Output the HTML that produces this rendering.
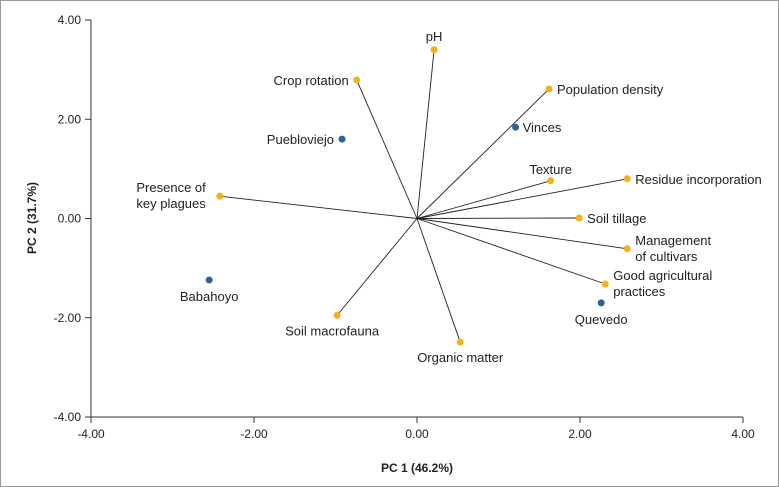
<!DOCTYPE html>
<html><head><meta charset="utf-8"><style>
html,body{margin:0;padding:0;background:#fff}
svg{display:block}
text{font-family:"Liberation Sans",sans-serif;fill:#222}
</style></head><body>
<svg id="chart" width="779" height="487" viewBox="0 0 779 487">
<rect x="0.5" y="0.5" width="778" height="486" fill="#fff" stroke="#999"/>
<g id="axes"></g><g id="vectors"></g><g id="points"></g>
</svg>
<script>
const xTicks=[-4,-2,0,2,4];
const yTicks=[4,2,0,-2,-4];
const tickLabels=["-4.00","-2.00","0.00","2.00","4.00"];
const varNames=["pH","Crop rotation","Population density","Texture","Residue incorporation","Soil tillage","Management|of cultivars","Good agricultural|practices","Organic matter","Soil macrofauna","Presence of|key plagues"];
const varX=[0.21,-0.74,1.62,1.64,2.58,1.99,2.58,2.31,0.53,-0.98,-2.42];
const varY=[3.40,2.79,2.61,0.76,0.80,0.01,-0.61,-1.32,-2.49,-1.95,0.45];
const siteNames=["Puebloviejo","Vinces","Babahoyo","Quevedo"];
const siteX=[-0.92,1.21,-2.55,2.26];
const siteY=[1.60,1.84,-1.24,-1.70];
const NS="http://www.w3.org/2000/svg";
const X0=91,X1=743,Y0=417,Y1=20;
const sx=v=>X0+(v+4)/8*(X1-X0);
const sy=v=>Y0-(v+4)/8*(Y0-Y1);
function mk(tag,attrs,parent,txt){const e=document.createElementNS(NS,tag);for(const k in attrs)e.setAttribute(k,attrs[k]);if(txt!==undefined)e.textContent=txt;parent.appendChild(e);return e;}
const ax=document.getElementById('axes');
let l=mk('line',{x1:X0,y1:Y1,x2:X0,y2:Y0,stroke:'#333'},ax);


l=mk('line',{x1:X0,y1:Y0,x2:X1,y2:Y0,stroke:'#333'},ax);


xTicks.forEach((v,i)=>{
 mk('line',{x1:sx(v),y1:Y0,x2:sx(v),y2:Y0+6,stroke:'#333'},ax);
 const t=mk('text',{x:sx(v),y:Y0+21,'text-anchor':'middle','font-size':12},ax,tickLabels[i]);
 
 
});
yTicks.forEach((v,i)=>{
 mk('line',{x1:X0-6,y1:sy(v),x2:X0,y2:sy(v),stroke:'#333'},ax);
 const t=mk('text',{x:X0-10,y:sy(v)+4,'text-anchor':'end','font-size':12},ax,tickLabels[4-i]);
 
 
});
let t=mk('text',{x:417,y:472,'text-anchor':'middle','font-size':12,'font-weight':'bold'},ax,'PC 1 (46.2%)');


t=mk('text',{x:36,y:218,'text-anchor':'middle','font-size':12,'font-weight':'bold',transform:'rotate(-90 36 218)'},ax,'PC 2 (31.7%)');


const vg=document.getElementById('vectors');
const pg=document.getElementById('points');
const ox=sx(0),oy=sy(0);
function label(x,y,name,anchor,g){
 const parts=name.split('|');
 const tt=mk('text',{x:x,y:y,'text-anchor':anchor,'font-size':13},g);
 parts.forEach((p,i)=>mk('tspan',{x:x,dy:i?16:0},tt,p));
 return tt;
}
varNames.forEach((n,i)=>{
 const x=sx(varX[i]),y=sy(varY[i]);
 const ln=mk('line',{x1:ox,y1:oy,x2:x,y2:y,stroke:'#222','stroke-width':0.9},vg);
 
 
 const c=mk('circle',{cx:x,cy:y,r:3.5,fill:'#f5b01a'},pg);
 
 
 let lx,ly,an;
 if(varX[i]<-2){lx=x-14;ly=y-4;an='end';}
 else if(n==='pH'){lx=x;ly=y-9;an='middle';}
 else if(n==='Crop rotation'){lx=x-8;ly=y+5;an='end';}
 else if(n==='Texture'){lx=x;ly=y-7;an='middle';}
 else if(n==='Organic matter'){lx=x;ly=y+20;an='middle';}
 else if(n==='Soil macrofauna'){lx=x-52;ly=y+20;an='start';}
 else if(n.indexOf('|')>=0){lx=x+8;ly=y-4;an='start';}
 else {lx=x+8;ly=y+5;an='start';}
 const tl=label(lx,ly,n,an,pg);
 
 
});
siteNames.forEach((n,i)=>{
 const x=sx(siteX[i]),y=sy(siteY[i]);
 const c=mk('circle',{cx:x,cy:y,r:3.5,fill:'#2a6496'},pg);
 
 
 let lx,ly,an;
 if(n==='Puebloviejo'){lx=x-8;ly=y+5;an='end';}
 else if(n==='Vinces'){lx=x+7;ly=y+5;an='start';}
 else {lx=x;ly=y+21;an='middle';}
 const tl=label(lx,ly,n,an,pg);
 
 
});
</script>
</body></html>
